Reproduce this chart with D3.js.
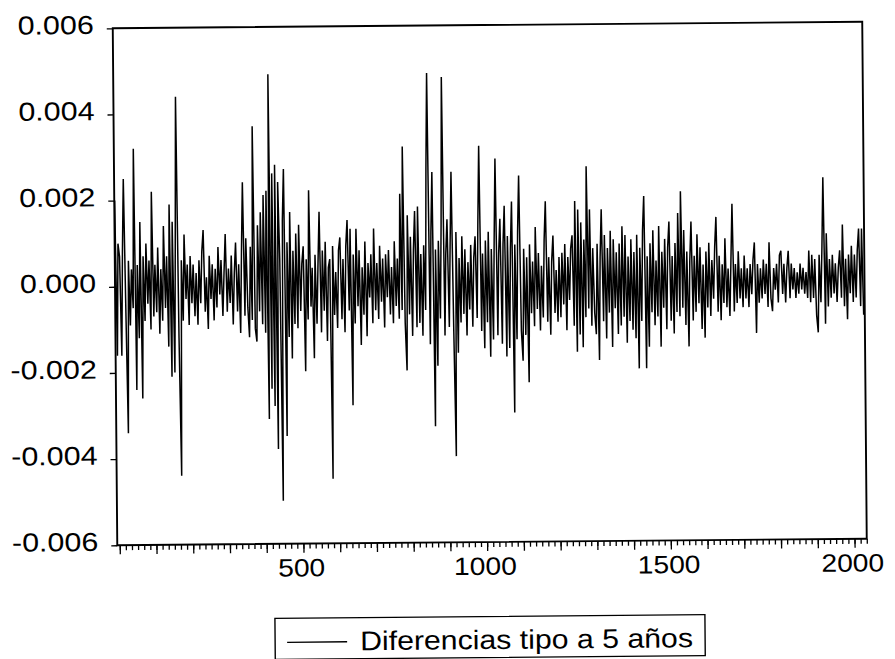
<!DOCTYPE html>
<html>
<head>
<meta charset="utf-8">
<script src="https://cdn.jsdelivr.net/npm/d3@7"></script>
<style>
  body { margin: 0; background: #fff; }
  svg { display: block; }
</style>
</head>
<body>
<svg id="chart" width="895" height="659"></svg>
<script>
const seriesName = 'Diferencias tipo a 5 años'

// differences of the 5-year rate, in basis points (1 bp = 0.0001),
// read off the picture at every 4th observation
const diffBp = [
  20, -16, 10,
  7, -16, 8, 25, -6, -34, 6, -9, 4, -5, 32, -24, 5, -12, 15, -26, 7, -8, 10, -4, 6, -10, 22, -7, 5,
  -6, 9, -11, 4, -8, 14, -5, 7, -14, 19, -21, 15, -20, 10, 44, -12, -44, 6, -8, 12, -3, 5, -9, 7, -4,
  5, -7, 3, -9, 6, -4, 8, 13, -6, 2, -10, 7, -3, 5, -8, 4, -5, 9, -2, 6, -7, 3, 12, -6, 4,
  -4, 7, -9, 3, 10, -6, 5, -11, 8, 24, -7, 11, -5, -12, 9, -8, 37, -10, -13, 14, -6, 17, -9, 21, -11,
  22, -31, 49, -24, 26, -28, 28, -38, 24, 6, -50, 15, 27, -35, 10, -12, 17, -17, 8, -9, 12, -10, 14, -6, 5,
  9, -20, 6, -8, 22, -5, 4, -17, 7, -9, 5, 17, -11, 8, -6, 10, -13, 4, 6, -45, 9, -7, 3, -10, 8,
  11, -8, 6, -11, 9, 15, -6, 13, -28, 7, -9, 13, -5, 8, -14, 4, -7, 10, -12, 5, -3, 7, -9, 13, -6,
  5, -8, 9, -4, 6, -10, 7, -3, 8, -7, 4, -9, 10, -5, 6, -8, 21, -6, 32, -9, -20, 16, -7, 11, -12,
  8, 17, -10, 18, -9, 7, -12, 9, -6, 27, 49, -14, 12, 26, -33, 8, -19, 10, -8, 14, 48, -12, 7, 15, -10,
  9, 26, -11, -40, 12, -16, 6, -9, 11, -7, 8, -12, 5, -6, 9, -10, 6, 11, -8, 14, 32, -11, 7, -15, 10,
  -9, 12, -17, 8, -13, 10, 29, -12, 7, 15, -14, 9, 18, -17, 11, -15, 8, 19, -30, 9, -13, 12, 25, -11, -18,
  8, -12, 6, -23, 9, -7, 5, -10, 13, -6, 7, -11, 4, -8, 10, 19, -9, 6, -12, 5, 11, -7, 3, -9, 6,
  -8, 7, -5, 9, -11, 6, -4, 8, 11, -10, 19, -16, 17, -12, 14, -15, 10, -8, 27, -6, 17, -10, 8, -7, -12,
  9, -18, 6, 17, -9, 11, -13, 8, -7, 12, -15, 10, -6, 7, -12, 9, -10, 13, -8, 11, -14, 6, -9, 10, -11,
  7, -13, 11, -20, 8, -9, 12, 20, -20, 6, -15, 9, -7, 12, -10, 5, -8, 13, -15, 7, -6, 10, -11, 8, 14,
  -9, 6, -12, 9, -7, 16, -8, 21, -6, 12, -10, 7, -15, 5, 14, -9, 6, -7, 11, -5, 8, -11, 4, -13, 7,
  -6, 9, -8, 5, -4, 8, 15, -7, 6, -9, 4, -5, 10, -6, 3, -8, 5, 18, -7, 4, -5, 7, -4, 3, -6,
  6, -4, 3, -6, 4, -3, 5, 9, -12, 4, -5, 3, -4, 5, -3, 4, -6, 9, -4, -7, 3, -2, 4, -5, 6,
  7, -3, 4, -5, 3, 7, -4, 4, -2, 3, -4, 2, -3, 4, -2, 3, -3, 2, -4, 7, -5, 6, -4,
  5, -8, -12, 6, -5, 8, 24, -10, 11, -6, 5, -4, 6, -3, 4, -5, 3, 7, -4, 13, -6, 5, -9, 6, -3,
  8, -5, 6, -4, 7, 12, -6, 12, -8
]
const obsStep = 4

const xDomain = [0, 2040]
const yDomain = [-0.006, 0.006]
const xTickLabels = [500, 1000, 1500, 2000]
const yTickValues = [-0.006, -0.004, -0.002, 0, 0.002, 0.004, 0.006]

const margin = { top: 25, right: 30.5, bottom: 117, left: 115 }
const width = 895
const height = 659
const fontFamily = '"Liberation Sans", Arial, Helvetica, sans-serif'

const svg = d3.select('#chart')
// the scanned chart is tilted a little
const root = svg.append('g').attr('transform', 'rotate(-0.5, 490, 283)')

const x = d3.scaleLinear().domain(xDomain).range([margin.left, width - margin.right])
const y = d3.scaleLinear().domain(yDomain).range([height - margin.bottom, margin.top])

const points = diffBp.map((v, i) => ({ obs: 1 + i * obsStep, value: v / 10000 }))

const fmt = d3.formatLocale({ decimal: '.', thousands: ',', grouping: [3], currency: ['', ''], minus: '-' }).format('.3f')

/**
 * Widens text glyphs a bit, the scanned font is broader than Arial.
 */
function stretch (sel, factor) {
  sel.each(function () {
    const w = this.getComputedTextLength()
    d3.select(this).attr('textLength', w * factor).attr('lengthAdjust', 'spacingAndGlyphs')
  })
}

// the series
const line = d3.line()
  .x(d => x(d.obs))
  .y(d => y(d.value))

root.append('path')
  .datum(points)
  .attr('fill', 'none')
  .attr('stroke', '#000')
  .attr('stroke-width', 1.5)
  .attr('stroke-linejoin', 'miter')
  .attr('d', line)

// y axis
const gy = root.append('g')
  .attr('transform', 'translate(' + margin.left + ',0)')
  .call(d3.axisLeft(y).tickValues(yTickValues).tickSize(6).tickPadding(13).tickFormat(fmt))
gy.select('.domain').remove()
gy.selectAll('line').attr('stroke-width', 1.3)
gy.selectAll('text')
  .attr('font-family', fontFamily)
  .attr('font-size', 26)
  .attr('dy', '0.19em')
  .call(stretch, 1.17)

// x axis: minor and major ticks, then labels
const xMinor = d3.range(20 / 3, xDomain[1] + 0.01, 50 / 3)
const xMajor = xMinor.filter((d, i) => i % 6 === 0)
const xBase = height - margin.bottom

const gxMinor = root.append('g')
  .attr('transform', 'translate(0,' + xBase + ')')
  .call(d3.axisBottom(x).tickValues(xMinor).tickSize(5).tickFormat(''))
gxMinor.select('.domain').remove()
gxMinor.selectAll('line').attr('stroke-width', 1.3)

const gxMajor = root.append('g')
  .attr('transform', 'translate(0,' + xBase + ')')
  .call(d3.axisBottom(x).tickValues(xMajor).tickSize(9).tickFormat(''))
gxMajor.select('.domain').remove()
gxMajor.selectAll('line').attr('stroke-width', 1.3)

const gxLab = root.append('g')
  .attr('transform', 'translate(0,' + xBase + ')')
  .call(d3.axisBottom(x).tickValues(xTickLabels).tickSize(0).tickPadding(15).tickFormat(d3.format('d')))
gxLab.select('.domain').remove()
gxLab.selectAll('text')
  .attr('font-family', fontFamily)
  .attr('font-size', 25)
  .call(stretch, 1.13)

// plot frame
root.append('rect')
  .attr('x', margin.left)
  .attr('y', margin.top)
  .attr('width', width - margin.left - margin.right)
  .attr('height', height - margin.top - margin.bottom)
  .attr('fill', 'none')
  .attr('stroke', '#000')
  .attr('stroke-width', 1.9)

// legend
const legend = root.append('g').attr('transform', 'translate(272,616.5)')
legend.append('rect')
  .attr('width', 430)
  .attr('height', 41)
  .attr('fill', '#fff')
  .attr('stroke', '#000')
  .attr('stroke-width', 1.4)
legend.append('line')
  .attr('x1', 12).attr('x2', 72)
  .attr('y1', 24).attr('y2', 24)
  .attr('stroke', '#000')
  .attr('stroke-width', 1.3)
legend.append('text')
  .attr('x', 85)
  .attr('y', 32.5)
  .attr('font-family', fontFamily)
  .attr('font-size', 27)
  .attr('fill', '#000')
  .text(seriesName)
  .call(stretch, 1.12)
</script>
</body>
</html>
